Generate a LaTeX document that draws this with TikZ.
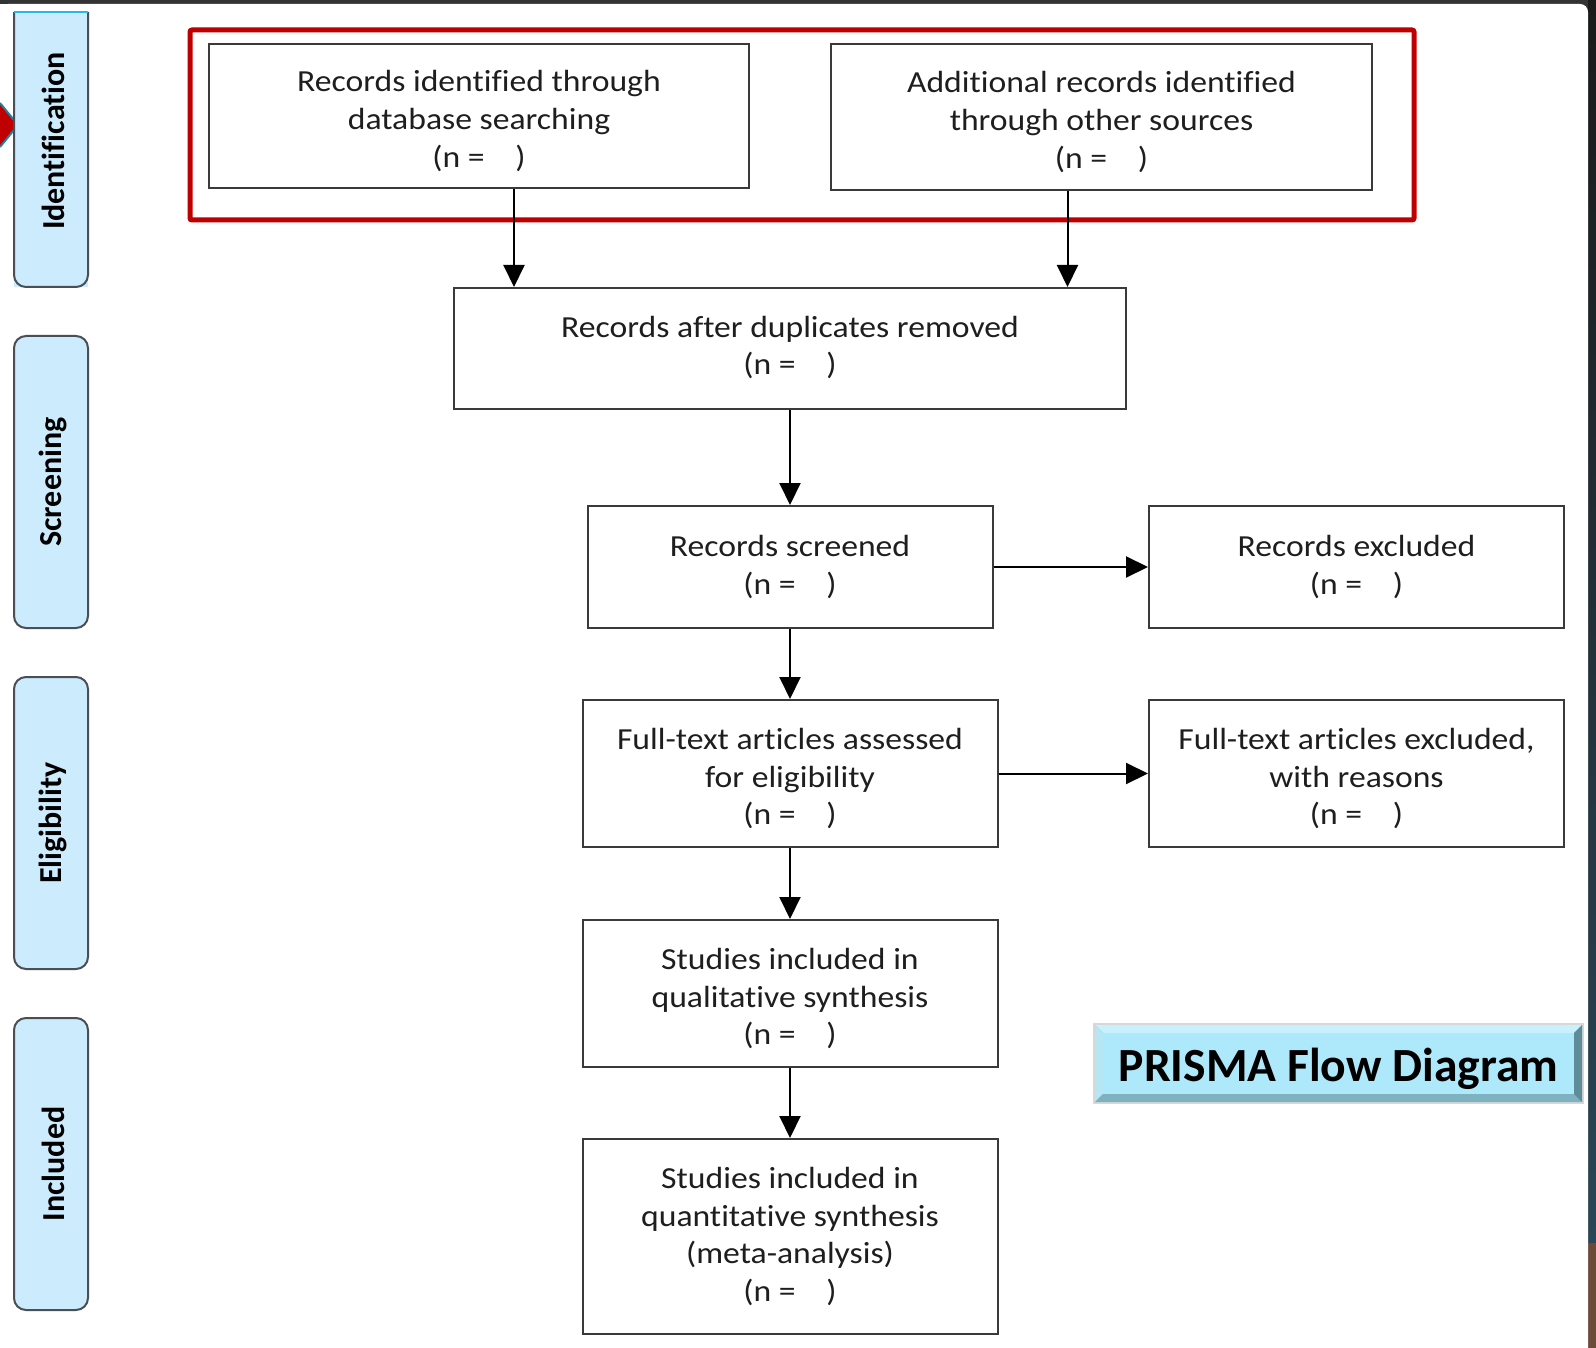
\documentclass[tikz,border=0pt]{standalone}
\usepackage{fontspec}
\setmainfont{Carlito}[FakeStretch=1.1,Ligatures=NoCommon]
\newfontfamily\plainf{Carlito}[Ligatures=NoCommon]
\usetikzlibrary{arrows.meta}
\definecolor{boxline}{HTML}{3A3A3A}
\definecolor{txt}{HTML}{1E1E1E}
\definecolor{redframe}{HTML}{C00000}
\definecolor{sidefill}{HTML}{CCEBFD}
\definecolor{sideline}{HTML}{4A4F55}
\definecolor{titlefill}{HTML}{AEE8FB}
\definecolor{pagebar}{HTML}{333333}
\definecolor{pagetop}{HTML}{1A1A1A}
\definecolor{pageedge}{HTML}{2B4656}
\definecolor{pagebrown}{HTML}{6B4A3A}
\definecolor{markedge}{HTML}{1F7FA0}
\definecolor{sidetop}{HTML}{2BB5E8}
\definecolor{tgray}{HTML}{D8D8D8}
\definecolor{tbase}{HTML}{6C9FAE}
\definecolor{ttop}{HTML}{C9F1FD}
\definecolor{tleft}{HTML}{B6E6F4}
\definecolor{tbottom}{HTML}{7FB2C0}
\definecolor{tright}{HTML}{5E8C99}
\tikzset{
  flowbox/.style={draw=boxline, line width=1pt, fill=white, inner sep=0pt},
  flowtext/.style={inner sep=0pt, align=center, text=txt,
    font=\fontsize{15.3}{18.8}\selectfont},
  arr/.style={draw=black, line width=1pt, -{Triangle[length=11pt,width=10.5pt]}},
  sidebox/.style={draw=sideline, line width=1pt, fill=sidefill, rounded corners=6pt},
  sidelabel/.style={rotate=90, font=\plainf\bfseries\fontsize{16}{18}\selectfont, text=black, inner sep=0pt}
}
\begin{document}
\begin{tikzpicture}[x=0.5pt,y=-0.5pt]
\useasboundingbox (0,0) rectangle (1596,1348);
% page background
\fill[pagebar] (0,0) rectangle (1596,1348);
\shade[top color=pagetop, bottom color=pageedge] (1588,0) rectangle (1596,1243);
\fill[pagebrown] (1588,1243) rectangle (1596,1348);
\fill[white, rounded corners=4pt] (0,4) -- (1588,4) -- (1588,1360) -- (0,1360) -- cycle;
\fill[white] (0,4) rectangle (1500,1348);
\fill[white] (0,200) rectangle (1588,1348);

% red marker arrow
\draw[fill=redframe, draw=markedge, line width=1pt] (0,103) -- (18,125) -- (0,147);

% side labels
\fill[sidefill] (14,12) -- (14,287) -- (88,287) -- (88,12) -- cycle;
\draw[draw=sideline, line width=1pt, rounded corners=6pt] (14,12) -- (14,287) -- (88,287) -- (88,12);
\draw[sidetop, line width=1pt] (14,12) -- (88,12);
\node[sidelabel] (lid) at (53,141) {Identification};
\draw[sidebox] (14,336) rectangle (88,628);
\node[sidelabel] (lsc) at (53,482) {Screening};
\draw[sidebox] (14,677) rectangle (88,969);
\node[sidelabel] (lel) at (53,823) {Eligibility};
\draw[sidebox] (14,1018) rectangle (88,1310);
\node[sidelabel] (lin) at (53,1164) {Included};

% red frame
\draw[redframe, line width=2.5pt, rounded corners=1pt] (190,30) rectangle (1414,220);

% boxes
\node[flowbox, minimum width=270pt, minimum height=72pt] (b1) at (479,116) {};
\node[flowtext] (t1) at ([yshift=-2.5pt]b1.center) {Records identified through\\database searching\\(n =\quad)};
\node[flowbox, minimum width=270.5pt, minimum height=73pt] (b2) at (1101.5,117) {};
\node[flowtext] (t2) at ([yshift=-2.5pt]b2.center) {Additional records identified\\through other sources\\(n =\quad)};
\node[flowbox, minimum width=336pt, minimum height=60.5pt] (b3) at (790,348.5) {};
\node[flowtext] (t3) at ([yshift=0.5pt]b3.center) {Records after duplicates removed\\(n =\quad)};
\node[flowbox, minimum width=202.5pt, minimum height=61pt] (b4) at (790,567) {};
\node[flowtext] (t4) at (b4.center) {Records screened\\(n =\quad)};
\node[flowbox, minimum width=207.5pt, minimum height=61pt] (b5) at (1356.5,567) {};
\node[flowtext] (t5) at (b5.center) {Records excluded\\(n =\quad)};
\node[flowbox, minimum width=207.5pt, minimum height=73.5pt] (b6) at (790,773.5) {};
\node[flowtext] (t6) at ([yshift=-2.5pt]b6.center) {Full-text articles assessed\\for eligibility\\(n =\quad)};
\node[flowbox, minimum width=207.5pt, minimum height=73.5pt] (b7) at (1356.5,773.5) {};
\node[flowtext] (t7) at ([yshift=-2.5pt]b7.center) {Full-text articles excluded,\\with reasons\\(n =\quad)};
\node[flowbox, minimum width=207.5pt, minimum height=73.5pt] (b8) at (790,993.5) {};
\node[flowtext] (t8) at ([yshift=-2.5pt]b8.center) {Studies included in\\qualitative synthesis\\(n =\quad)};
\node[flowbox, minimum width=207.5pt, minimum height=97.5pt] (b9) at (790,1236.5) {};
\node[flowtext] (t9) at (b9.center) {Studies included in\\quantitative synthesis\\(meta-analysis)\\(n =\quad)};

% connectors
\draw[arr] ([xshift=17.5pt]b1.south) -- ([xshift=17.5pt]b1.south |- b3.north);
\draw[arr] ([xshift=-17pt]b2.south) -- ([xshift=-17pt]b2.south |- b3.north);
\draw[arr] (b3.south) -- (b4.north);
\draw[arr] (b4.south) -- (b6.north);
\draw[arr] (b6.south) -- (b8.north);
\draw[arr] (b8.south) -- (b9.north);
\draw[arr] (b4.east) -- (b5.west);
\draw[arr] (b6.east) -- (b7.west);

% title button
\fill[tgray] (1093,1023) rectangle (1584,1104);
\fill[tbase] (1095,1025) rectangle (1582,1102);
\fill[ttop] (1095,1025) -- (1582,1025) -- (1574,1033) -- (1103,1033) -- cycle;
\fill[tleft] (1095,1025) -- (1103,1033) -- (1103,1094) -- (1095,1102) -- cycle;
\fill[tbottom] (1095,1102) -- (1103,1094) -- (1574,1094) -- (1582,1102) -- cycle;
\fill[tright] (1582,1025) -- (1574,1033) -- (1574,1094) -- (1582,1102) -- cycle;
\fill[titlefill] (1103,1033) rectangle (1574,1094);
\node[font=\plainf\bfseries\fontsize{23.8}{26}\selectfont, text=black, inner sep=0pt] (title) at (1338.5,1069) {PRISMA Flow Diagram};
\end{tikzpicture}
\end{document}
